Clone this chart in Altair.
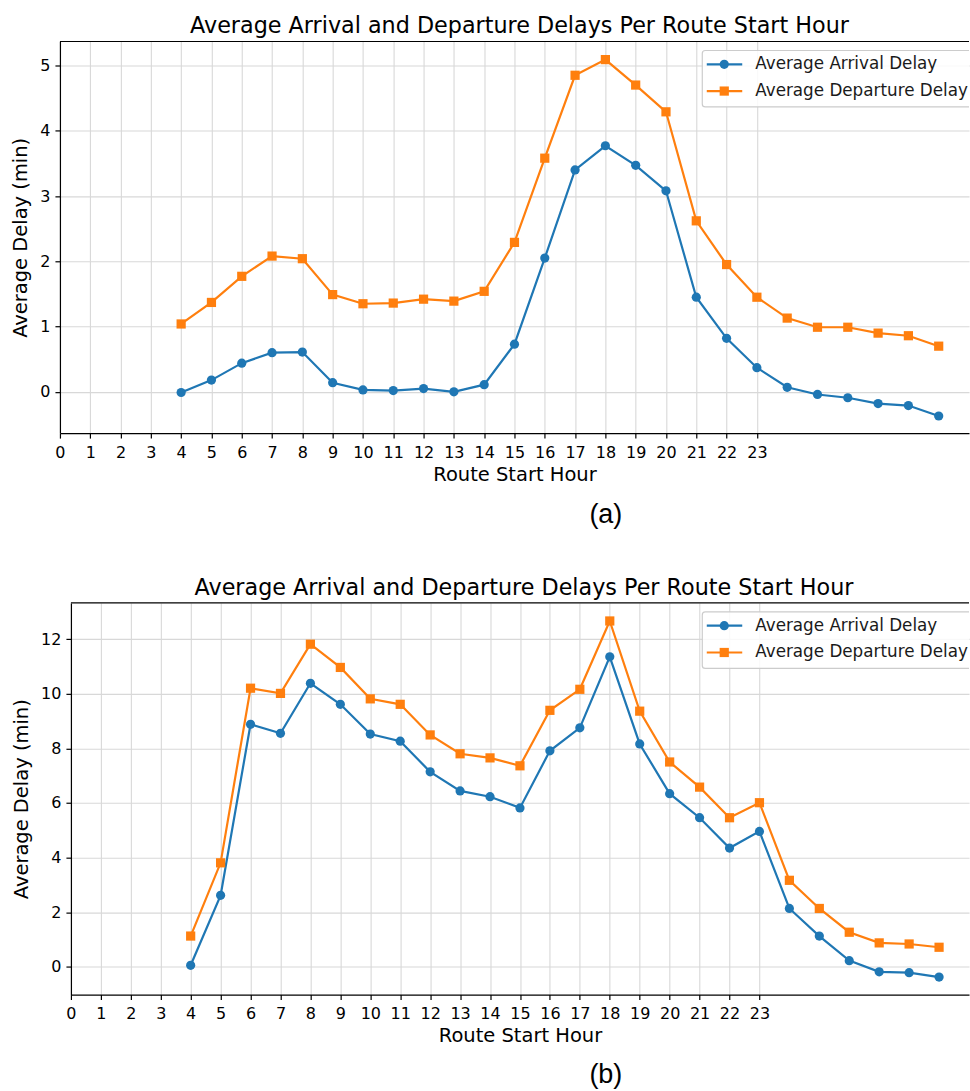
import altair as alt
import pandas as pd

hours = list(range(4, 30))
tick_hours = list(range(24))
series_names = ["Average Arrival Delay", "Average Departure Delay"]
colors = ["#1f77b4", "#ff7f0e"]
shapes = ["circle", "square"]

arr_a = [-0.01, 0.18, 0.44, 0.60, 0.61, 0.14, 0.03, 0.02, 0.05, 0.0, 0.11, 0.73, 2.05,
         3.40, 3.77, 3.47, 3.08, 1.45, 0.82, 0.37, 0.07, -0.04, -0.09, -0.18, -0.21, -0.37]
dep_a = [1.04, 1.37, 1.77, 2.08, 2.04, 1.49, 1.35, 1.36, 1.42, 1.39, 1.54, 2.29, 3.58,
         4.85, 5.09, 4.70, 4.29, 2.62, 1.95, 1.45, 1.13, 0.99, 0.99, 0.90, 0.86, 0.70]
arr_b = [0.06, 2.62, 8.88, 8.55, 10.38, 9.61, 8.52, 8.26, 7.14, 6.44, 6.23, 5.82, 7.91,
         8.75, 11.35, 8.16, 6.34, 5.46, 4.35, 4.96, 2.14, 1.13, 0.23, -0.18, -0.21, -0.37]
dep_b = [1.13, 3.81, 10.20, 10.01, 11.81, 10.96, 9.81, 9.61, 8.49, 7.80, 7.65, 7.36, 9.39,
         10.16, 12.66, 9.36, 7.50, 6.58, 5.46, 6.01, 3.17, 2.14, 1.27, 0.88, 0.84, 0.72]

TITLE = "Average Arrival and Departure Delays Per Route Start Hour"
FONT = "DejaVu Sans"
H = 392
W = 910          # group width; both panels' plot areas end at the same right edge
ORIGIN = 59      # page x of the group origin


def panel(arr, dep, ydom, yticks, inset, caption, cap_y, title_dx):
    # inset: how far (px) the plot area starts to the right of the group origin
    df = pd.DataFrame({
        "hour": hours * 2,
        "delay": arr + dep,
        "series": [series_names[0]] * len(hours) + [series_names[1]] * len(hours),
    })
    x = alt.X("hour:Q", scale=alt.Scale(domain=[0, 30], nice=False, zero=False, range=[inset, W]),
              axis=alt.Axis(values=tick_hours, format="d", title="Route Start Hour",
                            labelFontSize=16, titleFontSize=19.5, labelFont=FONT, titleFont=FONT,
                            labelColor="black", titleColor="black", titleFontWeight="normal",
                            tickSize=5, tickWidth=1.2, tickColor="black", domainColor="black",
                            domainWidth=1.2, labelPadding=6, titlePadding=5,
                            gridColor="#d8d8d8", gridWidth=1.1, labelFlush=False,
                            labelOverlap=False))
    y = alt.Y("delay:Q", scale=alt.Scale(domain=ydom, nice=False, zero=False),
              axis=alt.Axis(values=yticks, format="d", title="Average Delay (min)",
                            labelFontSize=16, titleFontSize=19.5, labelFont=FONT, titleFont=FONT,
                            labelColor="black", titleColor="black", titleFontWeight="normal",
                            tickSize=5, tickWidth=1.2, tickColor="black", domainColor="black",
                            domainWidth=1.2, labelPadding=5, titlePadding=9, offset=-inset,
                            gridColor="#d8d8d8", gridWidth=1.1, labelFlush=False))
    color = alt.Color("series:N", scale=alt.Scale(domain=series_names, range=colors), legend=None)
    shape = alt.Shape("series:N", scale=alt.Scale(domain=series_names, range=shapes), legend=None)
    base = alt.Chart(df)
    lines = base.mark_line(strokeWidth=2.2).encode(x=x, y=y, color=color)
    pts = base.mark_point(filled=True, size=85, opacity=1).encode(x=x, y=y, color=color, shape=shape)

    one = pd.DataFrame({"k": [0]})
    top_spine = alt.Chart(one).mark_rule(color="black", strokeWidth=1.2).encode(
        x=alt.value(inset), x2=alt.value(W), y=alt.value(0))

    # legend box (upper right, inside plot; its right side runs past the picture edge)
    lx = 702 - ORIGIN
    frame = alt.Chart(one).mark_rect(fill="white", fillOpacity=0.85, stroke="#cccccc",
                                     strokeWidth=1.2, cornerRadius=3, clip=True).encode(
        x=alt.value(lx), x2=alt.value(W + 8), y=alt.value(9), y2=alt.value(65.5))
    leg_layers = [frame]
    for i, name in enumerate(series_names):
        ry = 22.8 + i * 26.8
        ldf = pd.DataFrame({"name": [name]})
        leg_layers.append(alt.Chart(ldf).mark_rule(color=colors[i], strokeWidth=2.2).encode(
            x=alt.value(lx + 4.5), x2=alt.value(lx + 40), y=alt.value(ry)))
        leg_layers.append(alt.Chart(ldf).mark_point(filled=True, size=85, opacity=1,
                                                    shape=shapes[i], color=colors[i]).encode(
            x=alt.value(lx + 22), y=alt.value(ry)))
        leg_layers.append(alt.Chart(ldf).mark_text(align="left", baseline="middle", font=FONT,
                                                   fontSize=16.8, color="#1a1a1a").encode(
            x=alt.value(lx + 53), y=alt.value(ry), text="name:N"))

    cap = alt.Chart(one).mark_text(font="Liberation Sans", fontSize=27, align="center",
                                   baseline="alphabetic", color="black").encode(
        x=alt.value(605.5 - ORIGIN), y=alt.value(cap_y), text=alt.value(caption))

    return alt.layer(lines, pts, top_spine, *leg_layers, cap).properties(
        width=W, height=H,
        title=alt.TitleParams(TITLE, fontSize=22.3, font=FONT, fontWeight="normal",
                              color="black", anchor="middle", offset=3.2, dx=title_dx))


pa = panel(arr_a, dep_a, [-0.632, 5.367], [0, 1, 2, 3, 4, 5], 0, "(a)", 482, 5)
pb = panel(arr_b, dep_b, [-1.01, 13.32], [0, 2, 4, 6, 8, 10, 12], 11, "(b)", 481, 9.5)

chart = alt.vconcat(pa, pb, spacing=48).properties(
    padding={"left": 10, "top": 14, "right": 0, "bottom": 0}
).configure_view(stroke=None)

chart.save("out.html", embed_options={"renderer": "svg", "actions": False})
